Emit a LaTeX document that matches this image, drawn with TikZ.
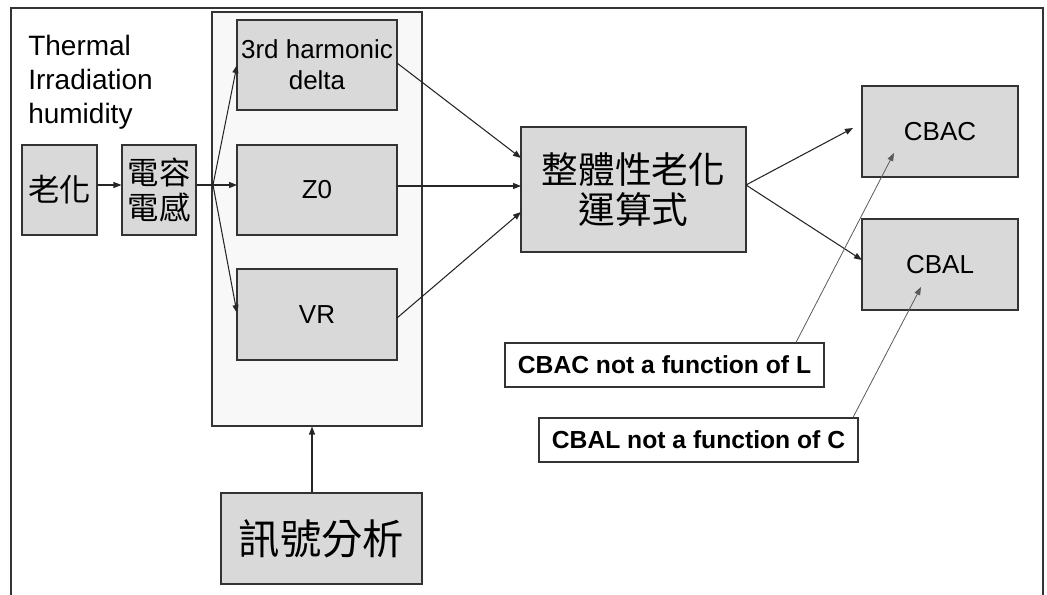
\documentclass[tikz,border=0pt]{standalone}
\usepackage{fontspec}
\setmainfont{Liberation Sans}
\newfontfamily\cjk{Noto Sans CJK TC}
\usetikzlibrary{arrows.meta,calc}

\definecolor{boxgray}{HTML}{D9D9D9}
\definecolor{panelgray}{HTML}{F8F8F8}
\definecolor{edgegray}{HTML}{333333}
\definecolor{pointergray}{HTML}{5A5A5A}

\tikzset{
  size/.style 2 args={minimum width=#1*0.75pt, minimum height=#2*0.75pt},
  greybox/.style={draw=edgegray, line width=0.8pt, fill=boxgray, inner sep=0pt, align=center},
  panel/.style={draw=edgegray, line width=0.8pt, fill=panelgray, inner sep=0pt},
  notebox/.style={draw=edgegray, line width=0.8pt, fill=white, inner sep=0pt,
    font=\bfseries\fontsize{18.5}{22}\selectfont},
  lab/.style={font=\fontsize{19.5}{23}\selectfont},
  flow/.style={draw=black!85, line width=0.8pt, -{Triangle[length=6pt,width=4.5pt]}},
  pointer/.style={draw=pointergray, line width=0.6pt, -{Triangle[length=6pt,width=4.5pt]}},
}

\begin{document}
\begin{tikzpicture}[x=0.75pt, y=-0.75pt]
  \useasboundingbox (0,0) rectangle (1047,595);

  % page frame, open at the bottom
  \draw[edgegray, line width=1pt] (11,600) -- (11,8) -- (1043,8) -- (1043,600);

  % container for the three signal features
  \node[panel, size={210}{414}] (panel) at (317,219) {};

  \node[anchor=north west, inner sep=0pt, align=left,
        font=\fontsize{21}{25.5}\selectfont] (cond) at (28,35)
        {Thermal\\Irradiation\\humidity};

  \node[greybox, size={75}{90}, font=\cjk\fontsize{23.5}{28}\selectfont] (aging) at (59.5,190) {老化};
  \node[greybox, size={74}{90}, font=\cjk\fontsize{23.5}{26}\selectfont] (lc) at (159,190) {電容\\電感};

  \node[greybox, size={160}{90}, lab] (h3) at (317,65) {3rd harmonic\\delta};
  \node[greybox, size={160}{90}, lab] (z0) at (317,190) {Z0};
  \node[greybox, size={160}{91}, lab] (vr) at (317,314.5) {VR};

  \node[greybox, size={201}{91}, font=\cjk\fontsize{31}{34}\selectfont] (sig) at (321.5,538.5) {訊號分析};

  \node[greybox, size={225}{125}, font=\cjk\fontsize{27.5}{29.5}\selectfont] (calc) at (633.5,189.5) {整體性老化\\運算式};

  \node[greybox, size={156}{91}, lab] (cbac) at (940,131.5) {CBAC};
  \node[greybox, size={156}{91}, lab] (cbal) at (940,264.5) {CBAL};

  \node[notebox, size={319}{44}] (noteC) at (664.5,365) {CBAC not a function of L};
  \node[notebox, size={319}{44}] (noteL) at (698.5,440) {CBAL not a function of C};

  % chain on the left
  \coordinate (split) at (213,185);
  \coordinate (h3in) at (237,65);
  \coordinate (z0in) at (237,185);
  \coordinate (vrin) at (237,313);
  \draw[flow] (aging.east |- split) -- (lc.west |- split);
  \draw[draw=black!85, line width=0.8pt] (lc.east |- split) -- (split);
  \draw[flow] (split) -- (h3in);
  \draw[flow] (split) -- (z0in);
  \draw[flow] (split) -- (vrin);

  % features into the combined ageing formula
  \coordinate (h3out) at (397,63);
  \coordinate (z0out) at (397,186);
  \coordinate (vrout) at (397,318);
  \coordinate (in1) at (521,158);
  \coordinate (in2) at (521,186);
  \coordinate (in3) at (521,212);
  \draw[flow] (h3out) -- (in1);
  \draw[flow] (z0out) -- (in2);
  \draw[flow] (vrout) -- (in3);

  % signal analysis feeds the panel
  \draw[flow] (sig.north -| 312,0) -- (panel.south -| 312,0);

  % outputs
  \coordinate (out) at (746,185);
  \coordinate (toC) at (853,128);
  \coordinate (toL) at (862,260);
  \draw[flow] (out) -- (toC);
  \draw[flow] (out) -- (toL);

  % notes pointing into the output boxes
  \coordinate (ptC) at (894,153);
  \coordinate (ptL) at (921,287);
  \draw[pointer] (noteC.north -| 796,0) -- (ptC);
  \draw[pointer] (noteL.north -| 853,0) -- (ptL);
\end{tikzpicture}
\end{document}
